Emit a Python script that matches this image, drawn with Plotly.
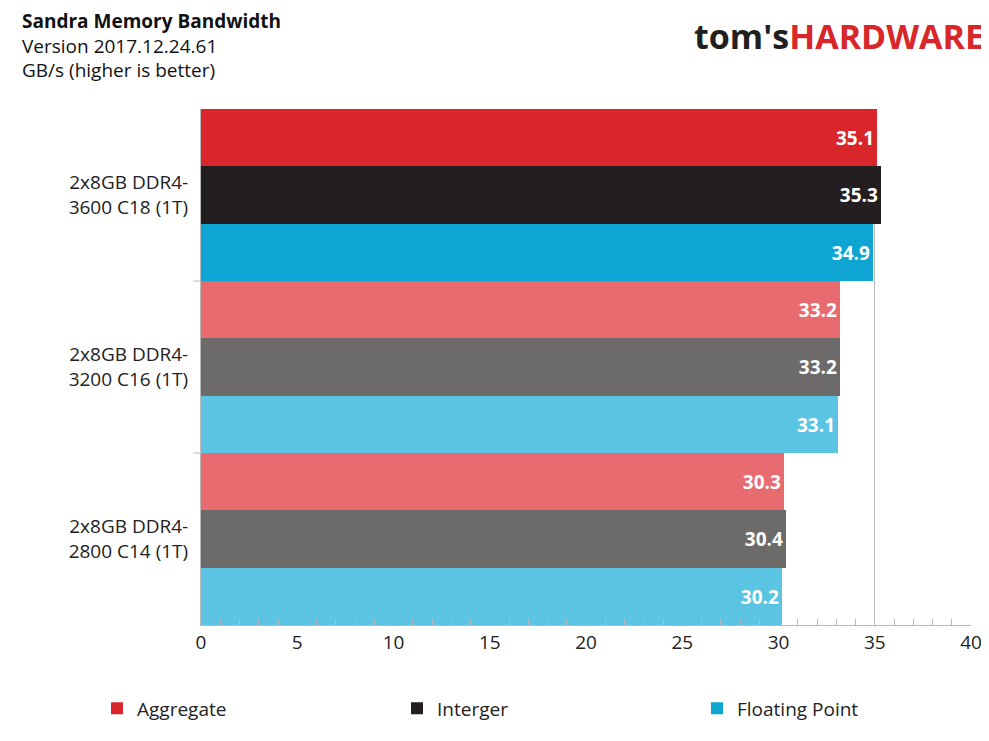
import plotly.graph_objects as go

categories = ["2x8GB DDR4-<br>3600 C18 (1T)", "2x8GB DDR4-<br>3200 C16 (1T)", "2x8GB DDR4-<br>2800 C14 (1T)"]
aggregate = [35.1, 33.2, 30.3]
integer = [35.3, 33.2, 30.4]
floating = [34.9, 33.1, 30.2]

series = [
    ("Aggregate", aggregate, "#D9262B", "#E86B70"),
    ("Interger", integer, "#231F20", "#6D6A6A"),
    ("Floating Point", floating, "#0EA5D3", "#5BC4E2"),
]

fig = go.Figure()
for name, vals, dark, light in series:
    fig.add_trace(go.Bar(
        y=categories, x=vals, name=name, orientation="h",
        marker=dict(color=[dark, light, light], line_width=0),
        text=[f"<b>{v:.1f}</b>" for v in vals], textposition="inside",
        insidetextanchor="end", textangle=0,
        textfont=dict(color="white", size=19, family="Open Sans"),
    ))

fig.update_layout(
    width=989, height=741, barmode="group", bargap=0.0, bargroupgap=0,
    plot_bgcolor="white", paper_bgcolor="white",
    margin=dict(l=193, r=26, t=101, b=124),
    font=dict(family="Open Sans", size=19, color="#222"),
    uniformtext=dict(mode="show", minsize=10),
    legend=dict(orientation="h", x=-0.09, xanchor="left", y=-0.125, yanchor="top",
                font=dict(size=19), itemwidth=30, entrywidth=255),
    xaxis=dict(range=[0, 40], dtick=5, showgrid=True, gridcolor="#B9B9B9",
               showline=True, linecolor="#B9B9B9", layer="above traces",
               ticks="", tickfont=dict(size=19),
               minor=dict(dtick=1, ticks="inside", ticklen=6, tickcolor="#B9B9B9", showgrid=False)),
    yaxis=dict(autorange="reversed", showline=True, linecolor="#B9B9B9",
               ticks="", tickfont=dict(size=19), ticklabelstandoff=8),
)
fig.add_annotation(xref="paper", yref="paper", x=-0.235, y=1.2, xanchor="left", yanchor="top",
                   align="left", showarrow=False,
                   text="<b>Sandra Memory Bandwidth</b><br>Version 2017.12.24.61<br>GB/s (higher is better)",
                   font=dict(size=19, color="#111"))
fig.add_annotation(xref="paper", yref="paper", x=1.02, y=1.19, xanchor="right", yanchor="top",
                   showarrow=False,
                   text="<b><span style='color:#231F20'>tom's</span><span style='color:#D9262B'>HARDWARE</span></b>",
                   font=dict(size=34, family="Open Sans"))
for yv in [0.5, 1.5]:
    fig.add_shape(type="line", xref="paper", yref="y", x0=-0.01, x1=0, y0=yv, y1=yv,
                  line=dict(color="#B9B9B9", width=1))
fig.write_html("out.html")
